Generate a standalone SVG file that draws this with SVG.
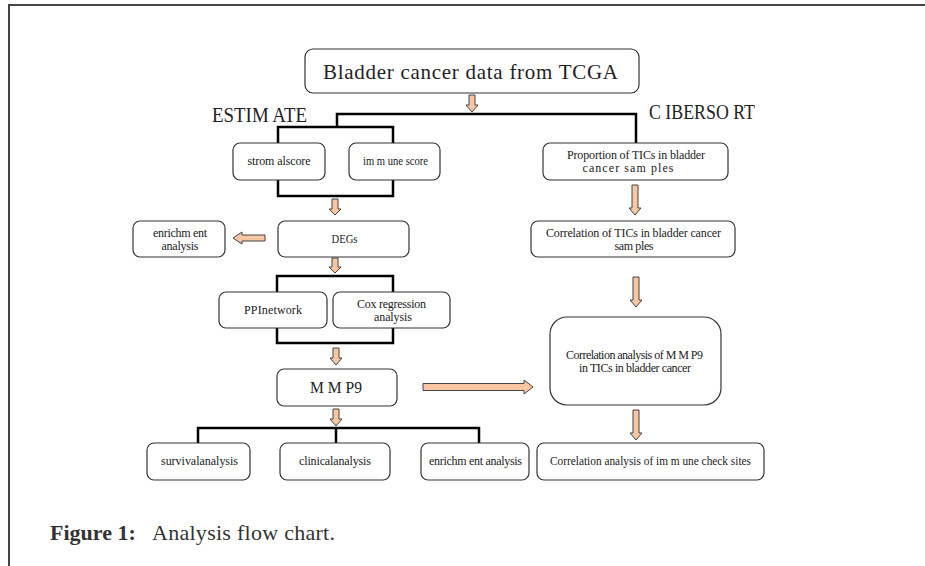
<svg xmlns="http://www.w3.org/2000/svg" width="925" height="566" viewBox="0 0 925 566">
<style>
.box{fill:#fff;stroke:#333;stroke-width:1.2}
.br{fill:none;stroke:#000;stroke-width:2.5}
.ar{fill:#F8C6A3;stroke:#444;stroke-width:1}
.t{font-family:"Liberation Serif","DejaVu Serif",serif;fill:#222;text-anchor:middle}
.s{font-size:12px}
.big{font-size:21px}
.cap{font-family:"Liberation Serif","DejaVu Serif",serif;fill:#333;font-size:22px}
</style>
<rect x="0" y="0" width="925" height="566" fill="#fff"/>
<g id="frame">
<path d="M9,566 V5 H925" fill="none" stroke="#444" stroke-width="2"/>
</g>
<g id="connectors">
<path class="br" d="M337,127 V114 H636 V143"/>
<path class="br" d="M278,127 H393 V196 H278 Z"/>
<path class="br" d="M277,276 H393 V343 H277 Z"/>
<path class="br" d="M198,443 V428 H479 V443 M336,428 V443"/>
<path class="ar" d="M469,95 h6 v10 h3 l-6,7 l-6,-7 h3 z"/>
<path class="ar" d="M332,199 h6 v10 h3 l-6,6 l-6,-6 h3 z"/>
<path class="ar" d="M332,258 h6 v9 h3 l-6,6 l-6,-6 h3 z"/>
<path class="ar" d="M333,348 h6 v10 h3 l-6,7 l-6,-7 h3 z"/>
<path class="ar" d="M333,409 h6 v10 h3 l-6,7 l-6,-7 h3 z"/>
<path class="ar" d="M632,185 h6 v23 h3 l-6,7 l-6,-7 h3 z"/>
<path class="ar" d="M633,277 h6 v23 h3 l-6,7 l-6,-7 h3 z"/>
<path class="ar" d="M633,410 h6 v23 h3 l-6,7 l-6,-7 h3 z"/>
<path class="ar" d="M265,235 V241 H242 V244 L233,238 L242,232 V235 Z"/>
<path class="ar" d="M423,383.5 H524 V380 L533,387 L524,394 V390.5 H423 Z"/>
</g>
<g id="tcga">
<rect class="box" x="305" y="49" width="334" height="44" rx="8"/>
<text class="t big" x="470.5" y="79" textLength="295" lengthAdjust="spacing">Bladder cancer data from TCGA</text>
</g>
<g id="estimate-label">
<text class="t" style="font-size:20px" x="259.5" y="122" textLength="95" lengthAdjust="spacingAndGlyphs">ESTIM ATE</text>
</g>
<g id="cibersort-label">
<text class="t" style="font-size:20px" x="702" y="119" textLength="106" lengthAdjust="spacingAndGlyphs">C IBERSO RT</text>
</g>
<g id="stromal">
<rect class="box" x="233" y="143" width="92" height="37" rx="7"/>
<text class="t s" x="279" y="165" textLength="63" lengthAdjust="spacing">strom alscore</text>
</g>
<g id="immune">
<rect class="box" x="349" y="143" width="91" height="37" rx="7"/>
<text class="t s" x="395.5" y="165" textLength="65" lengthAdjust="spacingAndGlyphs">im m une score</text>
</g>
<g id="enrich1">
<rect class="box" x="133" y="221" width="92" height="36" rx="7"/>
<text class="t s" x="180" y="237" textLength="54" lengthAdjust="spacing">enrichm ent</text>
<text class="t s" x="180" y="250" textLength="37" lengthAdjust="spacing">analysis</text>
</g>
<g id="degs">
<rect class="box" x="278" y="221" width="131" height="36" rx="7"/>
<text class="t s" x="344.5" y="243" textLength="26" lengthAdjust="spacingAndGlyphs">DEGs</text>
</g>
<g id="ppi">
<rect class="box" x="219" y="292" width="108" height="36" rx="7"/>
<text class="t s" x="273" y="314" textLength="58" lengthAdjust="spacing">PPInetwork</text>
</g>
<g id="cox">
<rect class="box" x="333" y="292" width="117" height="36" rx="7"/>
<text class="t s" x="391.5" y="308" textLength="69" lengthAdjust="spacing">Cox regression</text>
<text class="t s" x="393" y="321" textLength="38" lengthAdjust="spacing">analysis</text>
</g>
<g id="mmp9">
<rect class="box" x="277" y="369" width="120" height="37" rx="7"/>
<text class="t" style="font-size:17px" x="336" y="393" textLength="52" lengthAdjust="spacingAndGlyphs">M M P9</text>
</g>
<g id="survival">
<rect class="box" x="147" y="443" width="103" height="37" rx="7"/>
<text class="t s" x="199.5" y="465" textLength="77" lengthAdjust="spacing">survivalanalysis</text>
</g>
<g id="clinical">
<rect class="box" x="280" y="443" width="110" height="37" rx="7"/>
<text class="t s" x="335" y="465" textLength="72" lengthAdjust="spacing">clinicalanalysis</text>
</g>
<g id="enrich2">
<rect class="box" x="421" y="443" width="108" height="37" rx="7"/>
<text class="t s" x="475.5" y="465" textLength="93" lengthAdjust="spacing">enrichm ent analysis</text>
</g>
<g id="checksites">
<rect class="box" x="537" y="443" width="227" height="37" rx="7"/>
<text class="t s" x="650.5" y="465" textLength="201" lengthAdjust="spacingAndGlyphs">Correlation analysis of im m une check sites</text>
</g>
<g id="proportion">
<rect class="box" x="543" y="143" width="185" height="37" rx="7"/>
<text class="t s" x="636" y="159" textLength="138" lengthAdjust="spacing">Proportion of TICs in bladder</text>
<text class="t s" x="628" y="172" textLength="91" lengthAdjust="spacing">cancer sam ples</text>
</g>
<g id="correlation-tics">
<rect class="box" x="531" y="221" width="204" height="36" rx="7"/>
<text class="t s" x="633.5" y="237" textLength="175" lengthAdjust="spacing">Correlation of TICs in bladder cancer</text>
<text class="t s" x="634" y="250" textLength="39" lengthAdjust="spacing">sam ples</text>
</g>
<g id="correlation-mmp9">
<rect class="box" x="550" y="317" width="171" height="88" rx="17"/>
<text class="t s" x="634.5" y="359" textLength="137" lengthAdjust="spacing">Correlation analysis of M M P9</text>
<text class="t s" x="635" y="372" textLength="112" lengthAdjust="spacing">in TICs in bladder cancer</text>
</g>
<g id="caption">
<text class="cap" x="50" y="540"><tspan font-weight="bold">Figure 1:</tspan></text>
<text class="cap" x="152" y="540" textLength="183" lengthAdjust="spacing">Analysis flow chart.</text>
</g>
</svg>
